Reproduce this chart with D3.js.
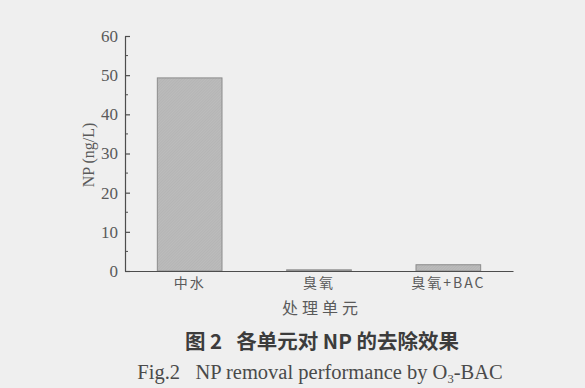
<!DOCTYPE html>
<html>
<head>
<meta charset="utf-8">
<script src="https://cdn.jsdelivr.net/npm/d3@7"></script>
<style>
  html, body { margin: 0; padding: 0; background: #efefef; }
  svg { display: block; }
</style>
</head>
<body>
<svg id="chart" width="585" height="388"></svg>
<script>
// NP concentration after each treatment unit
const categories = ["中水", "臭氧", "臭氧+BAC"];
const npValues = [49.3, 0.3, 1.6];
const yTicks = [0, 10, 20, 30, 40, 50, 60];
const yMinorTicks = [5, 15, 25, 35, 45, 55];

const svg = d3.select("#chart");
const ink = "#4d4d4d";
const serif = "'Liberation Serif', 'DejaVu Serif', serif";
const cjk = "'Noto Sans CJK SC', sans-serif";

const plot = { left: 125, right: 513, top: 36, bottom: 271 };

const x = d3.scaleBand()
  .domain(categories)
  .range([plot.left, plot.right])
  .paddingInner(0.5)
  .paddingOuter(0.25);

const y = d3.scaleLinear()
  .domain([0, 60])
  .range([plot.bottom, plot.top]);

// fine hatched fill for the bars
const defs = svg.append("defs");
const pat = defs.append("pattern")
  .attr("id", "hatch")
  .attr("patternUnits", "userSpaceOnUse")
  .attr("width", 2).attr("height", 2)
  .attr("patternTransform", "rotate(45)");
pat.append("rect").attr("width", 2).attr("height", 2).attr("fill", "#bcbcbc");
pat.append("line").attr("x1", 0).attr("y1", 0).attr("x2", 0).attr("y2", 2)
  .attr("stroke", "#aaaaaa").attr("stroke-width", 0.8);

// bars
svg.append("g")
  .selectAll("rect")
  .data(categories.map((c, i) => ({ c, v: npValues[i] })))
  .join("rect")
  .attr("x", d => x(d.c))
  .attr("width", x.bandwidth())
  .attr("y", d => y(d.v))
  .attr("height", d => y(0) - y(d.v))
  .attr("fill", "url(#hatch)")
  .attr("stroke", "#8c8c8c")
  .attr("stroke-width", 1);

// y axis with inward ticks
const yAxis = svg.append("g")
  .attr("transform", `translate(${plot.left},0)`)
  .call(d3.axisLeft(y).tickValues(yTicks).tickSize(-5).tickPadding(7).tickSizeOuter(0));
yAxis.select(".domain").attr("stroke", ink).attr("stroke-width", 1.2);
yAxis.selectAll(".tick line").attr("stroke", ink).attr("stroke-width", 1.2);
yAxis.selectAll(".tick text")
  .attr("fill", "#5a5a5a").attr("font-family", serif).attr("font-size", 17);

svg.append("g")
  .attr("transform", `translate(${plot.left},0)`)
  .selectAll("line")
  .data(yMinorTicks)
  .join("line")
  .attr("x1", 0).attr("x2", 3)
  .attr("y1", d => y(d)).attr("y2", d => y(d))
  .attr("stroke", ink).attr("stroke-width", 1);

// x axis baseline and category labels
const xAxis = svg.append("g")
  .attr("transform", `translate(0,${plot.bottom})`)
  .call(d3.axisBottom(x).tickSize(0).tickPadding(7).tickSizeOuter(0));
xAxis.select(".domain").attr("stroke", ink).attr("stroke-width", 1.2);
xAxis.selectAll(".tick text")
  .attr("fill", "#5a5a5a").attr("font-family", cjk).attr("font-size", 14)
  .attr("letter-spacing", 2);

// axis titles
svg.append("text")
  .attr("x", 322).attr("y", 314)
  .attr("text-anchor", "middle")
  .attr("fill", "#5a5a5a").attr("font-family", cjk).attr("font-size", 16)
  .attr("letter-spacing", 4)
  .text("处理单元");

svg.append("text")
  .attr("transform", "translate(94,155) rotate(-90)")
  .attr("text-anchor", "middle")
  .attr("fill", "#5a5a5a").attr("font-family", serif).attr("font-size", 16)
  .text("NP (ng/L)");

// figure captions
svg.append("text")
  .attr("x", 322).attr("y", 349)
  .attr("text-anchor", "middle")
  .attr("fill", "#3c3c3c").attr("font-family", cjk).attr("font-weight", "bold").attr("font-size", 20.5)
  .attr("xml:space", "preserve")
  .text("图 2   各单元对 NP 的去除效果");

const cap = svg.append("text")
  .attr("x", 320).attr("y", 379)
  .attr("text-anchor", "middle")
  .attr("fill", "#4a4a4a").attr("font-family", serif).attr("font-size", 20.5)
  .attr("xml:space", "preserve");
cap.append("tspan").text("Fig.2   NP removal performance by O");
cap.append("tspan").attr("font-size", 12.5).attr("dy", 4).text("3");
cap.append("tspan").attr("dy", -4).text("-BAC");
</script>
</body>
</html>
